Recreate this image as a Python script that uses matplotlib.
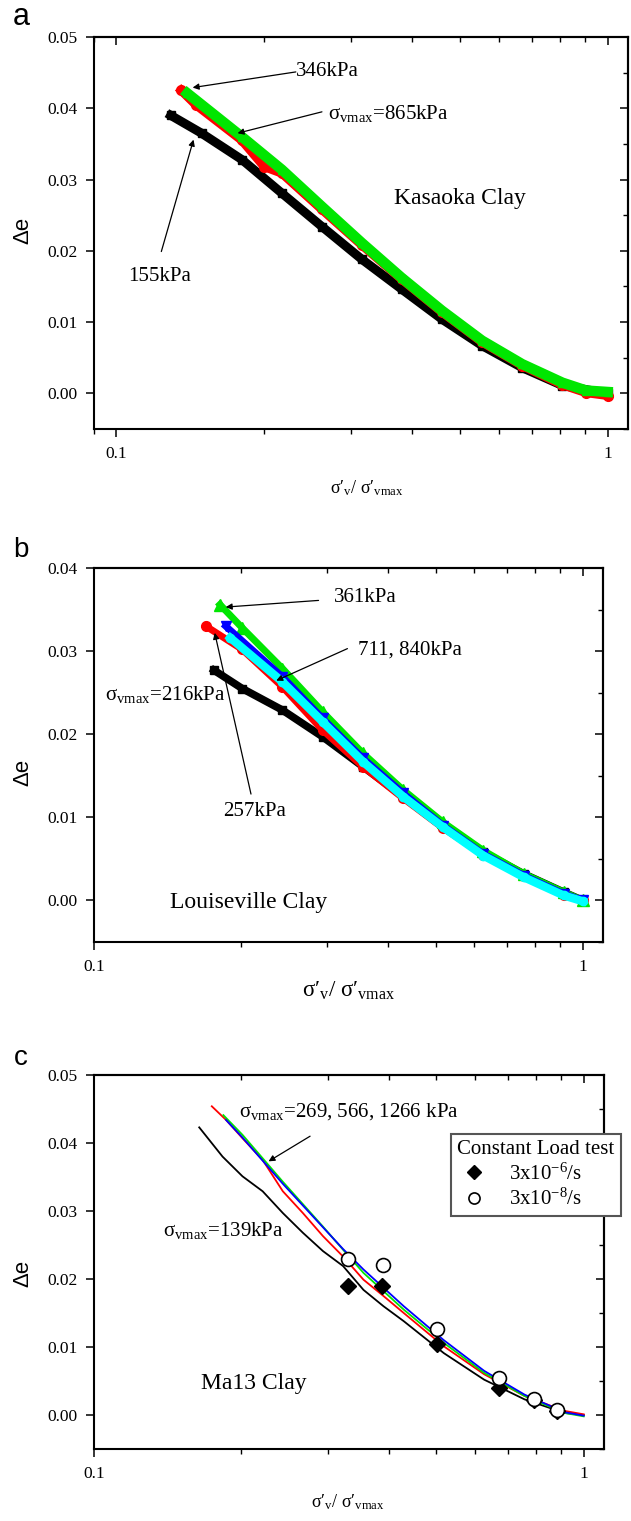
import matplotlib
matplotlib.use('Agg')
import matplotlib.pyplot as plt
import matplotlib.ticker as mticker

plt.rcParams['font.family'] = 'Liberation Serif'
plt.rcParams['mathtext.fontset'] = 'custom'
plt.rcParams['mathtext.rm'] = 'Liberation Serif'
plt.rcParams['mathtext.it'] = 'Liberation Serif:italic'

# ---- (a) Kasaoka Clay, normalised unloading curves
ka_155_x = [0.129, 0.149, 0.180, 0.217, 0.262, 0.316, 0.381, 0.460, 0.555, 0.670, 0.809, 1.0]
ka_155_y = [0.0390, 0.0365, 0.0328, 0.0281, 0.0234, 0.0188, 0.0146, 0.0104, 0.0067, 0.0036, 0.0011, 0.0]
ka_346_x = [0.1355, 0.145, 0.180, 0.200, 0.217, 0.262, 0.316, 0.381, 0.460, 0.555, 0.670, 0.809, 0.904, 1.0]
ka_346_y = [0.0425, 0.0405, 0.0355, 0.0318, 0.0309, 0.0258, 0.0208, 0.0160, 0.0114, 0.0072, 0.0039, 0.0012, 0.0001, -0.0003]
ka_865_x = [0.1394, 0.180, 0.217, 0.262, 0.316, 0.381, 0.460, 0.555, 0.670, 0.809, 0.904, 1.0]
ka_865_y = [0.0421, 0.0360, 0.0314, 0.0262, 0.0211, 0.0162, 0.0116, 0.0074, 0.0041, 0.0015, 0.0004, 0.0002]

# ---- (b) Louiseville Clay
lo_216_x = [0.176, 0.201, 0.243, 0.2935, 0.355, 0.429, 0.518, 0.626, 0.757, 0.914, 1.0]
lo_216_y = [0.0277, 0.0255, 0.0229, 0.0197, 0.0161, 0.0125, 0.0088, 0.0058, 0.0032, 0.0010, 0.0]
lo_257_x = [0.1694, 0.201, 0.243, 0.2935, 0.355, 0.429, 0.518, 0.626, 0.757, 0.914, 1.0]
lo_257_y = [0.0330, 0.0302, 0.0257, 0.0205, 0.0161, 0.0123, 0.0087, 0.0055, 0.0029, 0.0007, 0.0]
lo_361_x = [0.181, 0.201, 0.243, 0.2935, 0.355, 0.429, 0.518, 0.626, 0.757, 0.914, 1.0]
lo_361_y = [0.0356, 0.0328, 0.0279, 0.0227, 0.0177, 0.0133, 0.0094, 0.0060, 0.0032, 0.0010, 0.0]
lo_711_x = [0.186, 0.243, 0.2935, 0.355, 0.429, 0.518, 0.626, 0.757, 0.914, 1.0]
lo_711_y = [0.0330, 0.0269, 0.0219, 0.0171, 0.0129, 0.0090, 0.0056, 0.0030, 0.0008, 0.0]
lo_840_x = [0.190, 0.243, 0.2935, 0.355, 0.429, 0.518, 0.626, 0.757, 0.914, 1.0]
lo_840_y = [0.0316, 0.0263, 0.0215, 0.0167, 0.0125, 0.0088, 0.0054, 0.0028, 0.0006, -0.0001]

# ---- (c) Ma13 Clay
ma_139_x = [0.164, 0.183, 0.201, 0.221, 0.243, 0.267, 0.2935, 0.3226, 0.355, 0.390, 0.429, 0.518, 0.626, 0.757, 0.914, 1.0]
ma_139_y = [0.0423, 0.0380, 0.0351, 0.0329, 0.0297, 0.0268, 0.0241, 0.0219, 0.0184, 0.0160, 0.0138, 0.0091, 0.0052, 0.0023, 0.0003, 0.0]
ma_269_x = [0.174, 0.186, 0.201, 0.221, 0.243, 0.267, 0.2935, 0.3226, 0.355, 0.390, 0.429, 0.518, 0.626, 0.757, 0.914, 1.0]
ma_269_y = [0.0454, 0.0434, 0.0407, 0.0375, 0.0329, 0.0297, 0.0263, 0.0233, 0.0199, 0.0175, 0.0150, 0.0101, 0.0060, 0.0028, 0.0006, 0.0001]
ma_566_x = [0.1837, 0.201, 0.243, 0.2935, 0.3226, 0.355, 0.429, 0.518, 0.626, 0.757, 0.914, 1.0]
ma_566_y = [0.0441, 0.0412, 0.0343, 0.0277, 0.0243, 0.0209, 0.0155, 0.0106, 0.0062, 0.0028, 0.0003, -0.0002]
ma_1266_x = [0.186, 0.201, 0.243, 0.2935, 0.3226, 0.355, 0.429, 0.518, 0.626, 0.757, 0.914, 1.0]
ma_1266_y = [0.0434, 0.0408, 0.0340, 0.0276, 0.0244, 0.0214, 0.0160, 0.0110, 0.0065, 0.0030, 0.0004, -0.0001]

# constant load tests
cl6_x = [0.330, 0.388, 0.502, 0.672, 0.790, 0.882]
cl6_y = [0.0190, 0.0190, 0.0104, 0.0040, 0.0022, 0.0006]
cl8_x = [0.330, 0.390, 0.501, 0.672, 0.790, 0.882]
cl8_y = [0.0229, 0.0220, 0.0126, 0.0055, 0.0024, 0.0007]

GREEN = '#00e600'
BLUE = '#0000ff'
CYAN = '#00ffff'
RED = '#ff0000'

W, H = 631, 1521
fig = plt.figure(figsize=(W / 100, H / 100), dpi=100)


def px_axes(left, top, right, bottom):
    return fig.add_axes([left / W, 1 - bottom / H, (right - left) / W, (bottom - top) / H])


def style(ax, xlim, ylim, yticks):
    ax.set_xscale('log')
    ax.set_xlim(*xlim)
    ax.set_ylim(*ylim)
    ax.set_xticks([0.1, 1])
    ax.set_xticklabels(['0.1', '1'])
    ax.xaxis.set_minor_locator(mticker.LogLocator(base=10, subs=range(2, 10)))
    ax.xaxis.set_minor_formatter(mticker.NullFormatter())
    ax.set_yticks(yticks)
    ax.set_yticklabels(['%.2f' % v for v in yticks])
    ax.yaxis.set_minor_locator(mticker.NullLocator())
    ax.tick_params(which='major', direction='out', length=6, width=1.1,
                   labelsize=12.5, pad=6, top=False, right=False)
    ax.tick_params(which='minor', direction='out', length=3.5, width=1.0,
                   top=False, right=False)
    for s in ax.spines.values():
        s.set_linewidth(1.5)
    # inward ticks on top and right
    tx = ax.secondary_xaxis('top')
    tx.set_xticks([0.1, 1])
    tx.xaxis.set_minor_locator(mticker.LogLocator(base=10, subs=range(2, 10)))
    tx.xaxis.set_major_formatter(mticker.NullFormatter())
    tx.xaxis.set_minor_formatter(mticker.NullFormatter())
    tx.tick_params(which='major', direction='in', length=6, width=1.1)
    tx.tick_params(which='minor', direction='in', length=3.5, width=1.0)
    tx.spines['top'].set_linewidth(1.5)
    ry = ax.secondary_yaxis('right')
    ry.set_yticks(yticks)
    ry.yaxis.set_minor_locator(mticker.MultipleLocator(0.005))
    ry.yaxis.set_major_formatter(mticker.NullFormatter())
    ry.tick_params(which='major', direction='in', length=6, width=1.1)
    ry.tick_params(which='minor', direction='in', length=3.5, width=1.0)
    ry.spines['right'].set_linewidth(1.5)


def arrow(ax, tip, tail):
    ax.annotate('', xy=tip, xytext=tail,
                arrowprops=dict(arrowstyle='-|>', color='k', lw=0.9,
                                mutation_scale=9, shrinkA=0, shrinkB=0))


SIG = 'σ$_\\mathregular{vmax}$'

# ================= panel a =================
ax = px_axes(94, 37, 628, 429)
ax.plot(ka_155_x, ka_155_y, color='k', lw=6.5, marker='s', ms=6, solid_joinstyle='round')
ax.plot(ka_346_x, ka_346_y, color=RED, lw=6.5, marker='o', ms=7, solid_joinstyle='round')
ax.plot(ka_865_x, ka_865_y, color=GREEN, lw=7.5, marker='^', ms=6, solid_joinstyle='round')
style(ax, (0.09, 1.1), (-0.005, 0.05), [0.0, 0.01, 0.02, 0.03, 0.04, 0.05])
arrow(ax, (0.1429, 0.0429), (0.2318, 0.0451))
ax.text(0.2318, 0.0451, '346kPa', fontsize=15, ha='left', va='center')
arrow(ax, (0.1764, 0.0365), (0.262, 0.0395))
ax.text(0.270, 0.0392, SIG + '=865kPa', fontsize=15, ha='left', va='center')
arrow(ax, (0.1435, 0.0356), (0.1234, 0.0199))
ax.text(0.1058, 0.01645, '155kPa', fontsize=15, ha='left', va='center')
ax.text(0.367, 0.0273, 'Kasaoka Clay', fontsize=17, ha='left', va='center')

# ================= panel b =================
bx = px_axes(94, 568, 603, 942)
bx.plot(lo_216_x, lo_216_y, color='k', lw=5.5, marker='s', ms=6, solid_joinstyle='round')
bx.plot(lo_257_x, lo_257_y, color=RED, lw=5, marker='o', ms=7, solid_joinstyle='round')
bx.plot(lo_361_x, lo_361_y, color=GREEN, lw=5, marker='^', ms=8, solid_joinstyle='round')
bx.plot(lo_711_x, lo_711_y, color=BLUE, lw=5, marker='v', ms=7, solid_joinstyle='round')
bx.plot(lo_840_x, lo_840_y, color=CYAN, lw=6, marker='o', ms=6, solid_joinstyle='round')
style(bx, (0.1, 1.1), (-0.005, 0.04), [0.0, 0.01, 0.02, 0.03, 0.04])
arrow(bx, (0.186, 0.0353), (0.288, 0.0361))
bx.text(0.310, 0.0364, '361kPa', fontsize=15, ha='left', va='center')
arrow(bx, (0.236, 0.02645), (0.330, 0.0303))
bx.text(0.3467, 0.0301, '711, 840kPa', fontsize=15, ha='left', va='center')
bx.text(0.1054, 0.0248, SIG + '=216kPa', fontsize=15, ha='left', va='center')
arrow(bx, (0.1766, 0.0322), (0.2095, 0.0128))
bx.text(0.1834, 0.01065, '257kPa', fontsize=15, ha='left', va='center')
bx.text(0.1433, -0.0002, 'Louiseville Clay', fontsize=17, ha='left', va='center')

# ================= panel c =================
cx = px_axes(94, 1075, 604, 1449)
cx.plot(ma_139_x, ma_139_y, color='k', lw=1.3)
cx.plot(ma_269_x, ma_269_y, color=RED, lw=1.3)
cx.plot(ma_566_x, ma_566_y, color=GREEN, lw=1.3)
cx.plot(ma_1266_x, ma_1266_y, color=BLUE, lw=1.3)
h6, = cx.plot(cl6_x, cl6_y, linestyle='none', marker='D', ms=8.5, color='k',
              label='3x10$^\\mathregular{-6}$/s')
h8, = cx.plot(cl8_x, cl8_y, linestyle='none', marker='o', ms=10, mfc='white',
              mec='k', mew=1.2, label='3x10$^\\mathregular{-8}$/s')
style(cx, (0.1, 1.1), (-0.005, 0.05), [0.0, 0.01, 0.02, 0.03, 0.04, 0.05])
arrow(cx, (0.2272, 0.0373), (0.2762, 0.0410))
cx.text(0.1978, 0.0446, SIG + '=269, 566, 1266 kPa', fontsize=15, ha='left', va='center')
cx.text(0.138, 0.0272, SIG + '=139kPa', fontsize=15, ha='left', va='center')
cx.text(0.165, 0.0047, 'Ma13 Clay', fontsize=17, ha='left', va='center')
leg = cx.legend(handles=[h6, h8], title='Constant Load test', loc='upper left',
                bbox_to_anchor=(0.70, 0.842), fontsize=15, title_fontsize=15,
                frameon=True, fancybox=False, framealpha=1, markerscale=0.8,
                borderpad=0.3, labelspacing=0.2, handlelength=1.6,
                handletextpad=0.9, alignment='left', borderaxespad=0)
leg.get_frame().set_edgecolor('#555555')
leg.get_frame().set_linewidth(1.5)
leg.set_zorder(10)
leg.set_clip_on(False)

# ---- labels (figure pixel positions)
xlab = r"σ′$_\mathregular{v}$/ σ′$_\mathregular{vmax}$"
fig.text(367 / W, 1 - 493 / H, xlab, fontsize=13, ha='center', va='baseline')
fig.text(349 / W, 1 - 997 / H, xlab, fontsize=16.5, ha='center', va='baseline')
fig.text(348 / W, 1 - 1507 / H, xlab, fontsize=13, ha='center', va='baseline')

for yc in (230, 772, 1273):
    fig.text(23 / W, 1 - yc / H, 'Δe', fontsize=16, family='Liberation Sans',
             rotation=90, ha='center', va='center')

fig.text(13 / W, 1 - 25 / H, 'a', fontsize=22, family='Liberation Sans', ha='left', va='baseline')
fig.text(13 / W, 1 - 557 / H, 'b', fontsize=20, family='Liberation Sans', ha='left', va='baseline')
fig.text(14 / W, 1 - 1065 / H, 'c', fontsize=20, family='Liberation Sans', ha='left', va='baseline')

fig.savefig('out.png', dpi=100)
